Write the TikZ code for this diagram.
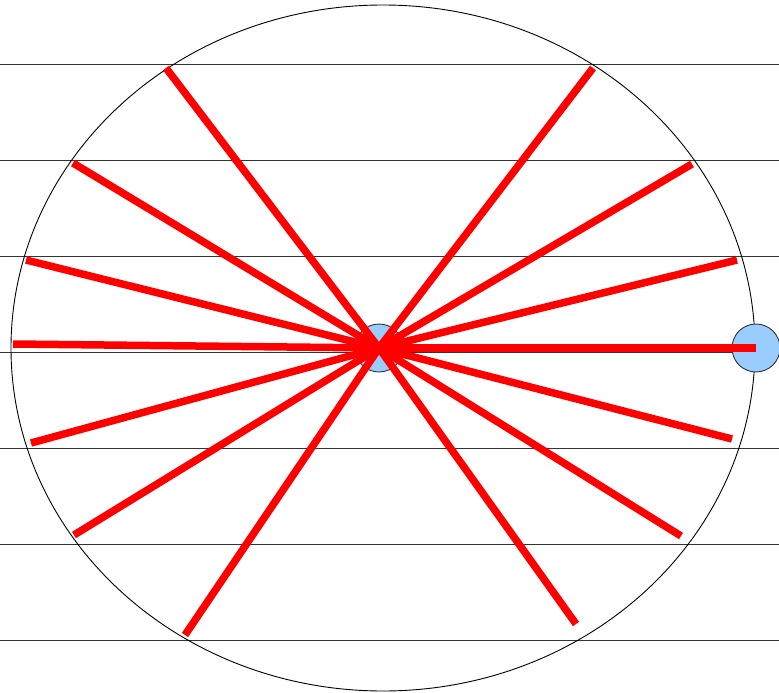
\documentclass[tikz,border=0pt]{standalone}
\definecolor{lightblue}{RGB}{153,204,255}
\begin{document}
\begin{tikzpicture}[x=1pt,y=-1pt,
  hline/.style={draw=black!80,line width=0.9pt},
  ray/.style={draw=red,line width=7.5pt},
  dot/.style={circle,draw=black!80,fill=lightblue,line width=0.9pt,minimum size=48pt,inner sep=0pt}]
\useasboundingbox (0,0) rectangle (779,693);
\foreach \y in {64,160,256,352,448,544,640}{
  \draw[hline] (0,\y) -- (779,\y);
}
\draw[line width=0.9pt] (383,348) ellipse [x radius=372, y radius=343];
\node[dot] (c) at (379,348) {};
\node[dot] (r) at (756,348) {};
\coordinate (o) at (379,348);
\foreach \n/\px/\py in {a/166/68, b/73/163, d/26/260, e/13/344, f/31/443, g/74/535, h/185/635,
  i/593/68, j/692/164, k/737/260, m/732/439, n/681/536, p/576/624}{
  \coordinate (\n) at (\px,\py);
  \draw[ray] (o) -- (\n);
}
\draw[ray] (o) -- (r.center);
\end{tikzpicture}
\end{document}
